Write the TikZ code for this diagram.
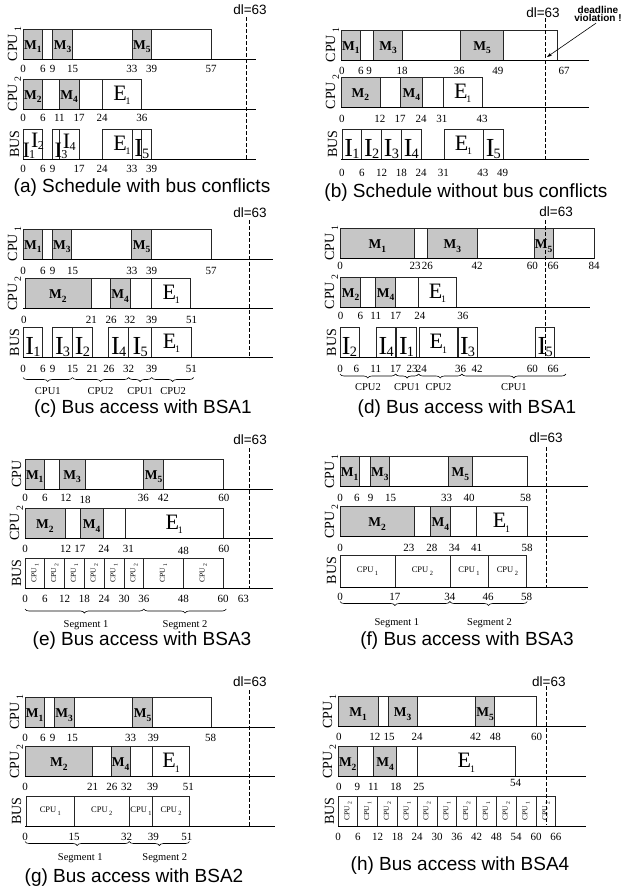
\documentclass[tikz,border=0pt]{standalone}
\usepackage{fontspec}
\setmainfont{Liberation Serif}
\setsansfont{Liberation Sans}
\usepackage{graphicx}
\usetikzlibrary{decorations.pathreplacing,arrows.meta}
\newcommand\subx[1]{\raisebox{-0.28em}{\scalebox{0.7}{#1}}}
\newcommand\esub[1]{\kern-0.05em\raisebox{-0.2em}{\scalebox{0.45}{#1}}}
\newcommand\isub[1]{\kern-0.03em\raisebox{-0.08em}{\scalebox{0.55}{#1}}}
\newcommand\cpusub[1]{CPU\,\raisebox{-0.3em}{\scalebox{0.75}{#1}}}
\newcommand\rowh{30}
\newcommand\wbox[3]{\draw[segbox] (#1,#3) rectangle (#2,{#3+\rowh});}
\newcommand\gbox[4]{\draw[gseg] (#1,#3) rectangle (#2,{#3+\rowh});\node[mlab] at ({(#1+#2)/2},{#3+20}) {M\subx{#4}};}
\newcommand\ebox[3]{\draw[segbox] (#1,#3) rectangle (#2,{#3+\rowh});\node[elab] at ({(#1+#2)/2},{#3+21}) {E\esub{1}};}
\newcommand\ibox[4]{\draw[segbox] (#1,#3) rectangle (#2,{#3+\rowh});\node[ilab] at ({(#1+#2)/2},{#3+27}) {I\isub{#4}};}
\newcommand\vslot[4]{\draw[segbox] (#1,#3) rectangle (#2,{#3+\rowh});\node[slotv] at ({(#1+#2)/2},{#3+\rowh/2}) {\cpusub{#4}};}
\newcommand\hslot[4]{\draw[segbox] (#1,#3) rectangle (#2,{#3+\rowh});\node[sloth] at ({(#1+#2)/2},{#3+\rowh/2}) {\cpusub{#4}};}
\newcommand\rlab[2]{\node[rowlab] at ([xshift=-8.5pt]0,{#1+15}) {#2};}
\newcommand\bline[2]{\draw[baseln] (0,{#1+\rowh}) -- (#2,{#1+\rowh});}
\newcommand\ticks[2]{\foreach \tpos/\tlab in {#2}{\node[ticklab] at (\tpos,#1) {\tlab};}}
\tikzset{
  segbox/.style={draw=black!85, line width=0.7pt, fill=white},
  gseg/.style={segbox, fill=gray!45},
  baseln/.style={line width=0.8pt, black},
  ticklab/.style={font=\fontsize{11}{11}\selectfont, inner sep=0pt},
  mlab/.style={anchor=base, font=\fontsize{13.5}{13.5}\selectfont\bfseries, inner sep=0pt},
  elab/.style={anchor=base, font=\fontsize{22}{22}\selectfont, inner sep=0pt},
  ilab/.style={anchor=base, font=\fontsize{26}{26}\selectfont, inner sep=0pt},
  rowlab/.style={rotate=90, font=\fontsize{14}{14}\selectfont, inner sep=0pt},
  slotv/.style={rotate=90, font=\fontsize{7.5}{7.5}\selectfont, inner sep=0pt},
  sloth/.style={font=\fontsize{8.5}{8.5}\selectfont, inner sep=0pt},
  blab/.style={font=\fontsize{10.5}{10.5}\selectfont, inner sep=0pt},
  captxt/.style={font=\sffamily\fontsize{19}{19}\selectfont, inner sep=0pt},
  dlt/.style={font=\sffamily\fontsize{13.5}{13.5}\selectfont, inner sep=0pt},
  dline/.style={dash pattern=on 3.5pt off 2.5pt, line width=0.8pt},
  brc/.style={decorate, decoration={brace, mirror, amplitude=4pt}, line width=0.6pt}
}
\begin{document}
\begin{tikzpicture}[x=1pt,y=-1pt]
\fill[white] (0,0) rectangle (629,892);
\useasboundingbox (0,0) rectangle (629,892);

% ---------------- (a)
\begin{scope}[xshift=23pt, x=3.3pt]
\rlab{29}{CPU\,\subx{1}}
\wbox{0}{57}{29}
\gbox{0}{6}{29}{1}\gbox{9}{15}{29}{3}\gbox{33}{39}{29}{5}
\bline{29}{70.6}
\ticks{69}{0/0,6/6,9/9,15/15,33/33,39/39,57/57}
\rlab{79}{CPU\,\subx{2}}
\wbox{0}{36}{79}
\gbox{0}{6}{79}{2}\gbox{11}{17}{79}{4}\ebox{24}{36}{79}
\bline{79}{70.6}
\ticks{118}{0/0,6/6,11/11,17/17,24/24,36/36}
\rlab{129}{BUS}
\draw[segbox] (0,129) rectangle (6,159);
\node[ilab, font=\fontsize{22}{22}\selectfont] (aI1) at (1.8,157) {I\isub{1}};
\node[ilab, font=\fontsize{22}{22}\selectfont] (aI2) at (4.4,147.5) {I\isub{2}};
\draw[segbox] (9,129) rectangle (17,159);
\draw[segbox] (11,129) -- (11,159);
\node[ilab, font=\fontsize{22}{22}\selectfont] (aI3) at (11.5,157) {I\isub{3}};
\node[ilab, font=\fontsize{22}{22}\selectfont] (aI4) at (14,148.5) {I\isub{4}};
\ebox{24}{36}{129}
\draw[segbox, fill=none] (33,129) rectangle (39,159);
\node[ilab] (aI5) at (36,156) {I\isub{5}};
\bline{129}{70.6}
\ticks{169}{0/0,6/6,9/9,17/17,24/24,33/33,39/39}
\node[dlt] (adl) at (68.8,10) {dl=63};
\draw[dline] (67.6,17) -- (67.6,159);
\end{scope}
\node[captxt] (capa) at (142,188) {(a) Schedule with bus conflicts};

% ---------------- (b)
\begin{scope}[xshift=341pt, x=3.3pt]
\rlab{30}{CPU\,\subx{1}}
\wbox{0}{65.5}{30}
\gbox{0}{6}{30}{1}\gbox{9.8}{18.7}{30}{3}\gbox{36.2}{49.3}{30}{5}
\bline{30}{75.2}
\ticks{70.5}{0.3/0,6/6,8.5/9,18.5/18,35.8/36,47.5/49,67.6/67}
\rlab{77}{CPU\,\subx{2}}
\wbox{0}{42.8}{77}
\gbox{0}{11.8}{77}{2}\gbox{17.9}{24.8}{77}{4}\ebox{31}{42.8}{77}
\bline{77}{75.2}
\ticks{119}{0.3/0,11.8/12,17.9/17,24.3/24,30.6/31,42.8/43}
\rlab{129}{BUS}
\ibox{0.3}{6.3}{129}{1}\ibox{6.3}{12.3}{129}{2}\ibox{12.3}{18.3}{129}{3}\ibox{18.3}{24.3}{129}{4}
\ebox{31.2}{43}{129}\ibox{43}{49.3}{129}{5}
\bline{129}{75.2}
\ticks{173}{0.3/0,6.3/6,12.3/12,18.3/18,24.3/24,31/31,43/43,49/49}
\node[dlt] (bdl) at (61.2,13) {dl=63};
\draw[dline] (62,18) -- (62,159);
\end{scope}
\node[font=\sffamily\bfseries\fontsize{10}{8.6}\selectfont, align=center, inner sep=0pt] (viol) at (598,14) {deadline\\violation !};
\coordinate (vtip) at (547,57);
\draw[line width=0.6pt, -{Stealth[length=5pt,width=3.5pt]}] ([xshift=-2pt,yshift=-1pt]viol.south) -- (vtip);
\node[captxt] (capb) at (466,193) {(b) Schedule without bus conflicts};

% ---------------- (c)
\begin{scope}[xshift=23pt, x=3.3pt]
\rlab{229}{CPU\,\subx{1}}
\wbox{0}{57}{229}
\gbox{0}{6}{229}{1}\gbox{8.9}{14.7}{229}{3}\gbox{32.9}{39}{229}{5}
\bline{229}{75.8}
\ticks{271}{0/0,6/6,9/9,15/15,33/33,39/39,57/57}
\rlab{278.5}{CPU\,\subx{2}}
\wbox{0.6}{50.8}{278.5}
\gbox{0.6}{20.6}{278.5}{2}\gbox{26.4}{32.4}{278.5}{4}\ebox{39}{50.8}{278.5}
\bline{278.5}{75.8}
\ticks{320}{0.3/0,20.7/21,26.7/26,32.4/32,39/39,51.1/51}
\rlab{327.5}{BUS}
\ibox{0}{6}{327.5}{1}\ibox{9}{15}{327.5}{3}\ibox{15}{21}{327.5}{2}
\ibox{26}{32}{327.5}{4}\ibox{32}{39}{327.5}{5}\ebox{39}{51}{327.5}
\bline{327.5}{75.8}
\ticks{369}{0/0,6/6,9/9,15/15,21/21,26/26,32/32,39/39,51/51}
\draw[brc] (0,377.5) -- (15,377.5);
\draw[brc] (15,377.5) -- (32,377.5);
\draw[brc] (32,377.5) -- (39,377.5);
\draw[brc] (39,377.5) -- (51.7,377.5);
\node[blab] at (7.5,391) {CPU1};
\node[blab] at (23.5,391) {CPU2};
\node[blab] at (35.5,391) {CPU1};
\node[blab] at (45.5,391) {CPU2};
\node[dlt] (cdl) at (68.8,212.5) {dl=63};
\draw[dline] (68.6,220) -- (68.6,358);
\end{scope}
\node[captxt] (capc) at (143,408.5) {(c) Bus access with BSA1};

% ---------------- (d)
\begin{scope}[xshift=340pt, x=3.25pt]
\rlab{228.3}{CPU\,\subx{1}}
\wbox{0}{78.2}{228.3}
\gbox{0}{23}{228.3}{1}\gbox{26.9}{42.2}{228.3}{3}\gbox{59.7}{65.6}{228.3}{5}
\bline{228.3}{78.2}
\ticks{265.7}{0/0,23.1/23,26.9/26,42.2/42,59.2/60,65.6/66,78.2/84}
\rlab{277}{CPU\,\subx{2}}
\wbox{0.2}{35.9}{277}
\gbox{0.2}{6.3}{277}{2}\gbox{11}{17.1}{277}{4}\ebox{24.1}{35.9}{277}
\bline{277}{76.9}
\ticks{316}{0.2/0,6.3/6,11/11,17.1/17,24.6/24,37.8/36}
\rlab{327.7}{BUS}
\ibox{0}{5.8}{327.7}{2}\ibox{11.3}{17.1}{327.7}{4}\ibox{17.4}{23.6}{327.7}{1}
\ebox{24.4}{36.1}{327.7}\ibox{36.3}{42.2}{327.7}{3}\ibox{60.2}{66.1}{327.7}{5}
\bline{327.7}{76.9}
\ticks{368.5}{0/0,5/6,11/11,17.1/17,22.2/23,25/24,37.1/36,42.2/42,59.2/60,65.6/66}
\draw[brc] (0,374) -- (17.1,374);
\draw[brc] (17.1,374) -- (24.2,374);
\draw[brc] (24.2,374) -- (37.5,374);
\draw[brc] (37.5,374) -- (69.5,374);
\node[blab] at (8.6,387.5) {CPU2};
\node[blab] at (20.6,387.5) {CPU1};
\node[blab] at (30.3,387.5) {CPU2};
\node[blab] at (53.5,387.5) {CPU1};
\node[dlt] (ddl) at (66.5,212) {dl=63};
\draw[dline] (63.3,220) -- (63.3,358);
\end{scope}
\node[captxt] (capd) at (467,408.5) {(d) Bus access with BSA1};

% ---------------- (e)
\begin{scope}[xshift=25pt, x=3.3pt]
\rlab{459}{CPU}
\wbox{0}{60}{459}
\gbox{0}{5.9}{459}{1}\gbox{10.4}{18.2}{459}{3}\gbox{35.9}{42}{459}{5}
\bline{459}{75.2}
\ticks{498}{0/0,6/6,12.4/12,35.9/36,41.9/42,60.3/60}
\node[ticklab] at (18.2,500) {18};
\rlab{508.3}{CPU\,\subx{2}}
\wbox{0}{60}{508.3}
\gbox{0}{12.1}{508.3}{2}\gbox{16.7}{23.7}{508.3}{4}\ebox{30.4}{60}{508.3}
\bline{508.3}{75.2}
\ticks{549}{0/0,12.3/12,16.6/17,23.9/24,31.3/31,60.3/60}
\node[ticklab] at (48,550.7) {48};
\rlab{558.3}{BUS}
\vslot{0}{6}{558.3}{1}\vslot{6}{12}{558.3}{2}\vslot{12}{18}{558.3}{1}\vslot{18}{24}{558.3}{2}
\vslot{24}{30}{558.3}{1}\vslot{30}{36}{558.3}{2}\vslot{36}{48}{558.3}{1}\vslot{48}{60}{558.3}{2}
\bline{558.3}{75.2}
\ticks{599}{0/0,6/6,12/12,18/18,24/24,30/30,36/36,48/48,60/60,66.2/63}
\draw[brc] (0,609) -- (36,609);
\draw[brc] (36,609) -- (61,609);
\node[blab] at (18.5,625) {Segment 1};
\node[blab] at (48.5,625) {Segment 2};
\node[dlt] (edl) at (68.2,440) {dl=63};
\draw[dline] (68,448) -- (68,588);
\end{scope}
\node[captxt] (cape) at (142,641) {(e) Bus access with BSA3};

% ---------------- (f)
\begin{scope}[xshift=340pt, x=3.25pt]
\rlab{456.7}{CPU\,\subx{1}}
\wbox{0}{57.6}{456.7}
\gbox{0}{5.85}{456.7}{1}\gbox{9.2}{15.3}{456.7}{3}\gbox{33.3}{40.7}{456.7}{5}
\bline{456.7}{76.3}
\ticks{498.3}{0/0,5.2/6,9.4/9,15.6/15,32.8/33,39.7/40,57.1/58}
\rlab{506.7}{CPU\,\subx{2}}
\wbox{0}{57.6}{506.7}
\gbox{0}{22.8}{506.7}{2}\gbox{27.9}{33.8}{506.7}{4}\ebox{41.8}{57.6}{506.7}
\bline{506.7}{76.3}
\ticks{548.3}{0/0,21.2/23,28.3/28,35.2/34,42/41,57.6/58}
\rlab{555.7}{BUS}
\renewcommand\rowh{31.5}
\hslot{0}{16.9}{555.7}{1}\hslot{16.9}{33.8}{555.7}{2}\hslot{33.8}{45.6}{555.7}{1}\hslot{45.6}{57.4}{555.7}{2}
\bline{555.7}{76.3}
\renewcommand\rowh{30}
\ticks{596.7}{0/0,16.9/17,33.8/34,45.6/46,57.4/58}
\draw[brc] (0,601.5) -- (33.8,601.5);
\draw[brc] (33.8,601.5) -- (57.6,601.5);
\node[blab] at (17.5,623.3) {Segment 1};
\node[blab] at (46,623.3) {Segment 2};
\node[dlt] (fdl) at (63.4,438) {dl=63};
\draw[dline] (63.6,447) -- (63.6,588);
\end{scope}
\node[captxt] (capf) at (467,641) {(f) Bus access with BSA3};

% ---------------- (g)
\begin{scope}[xshift=25pt, x=3.25pt]
\rlab{697.3}{CPU\,\subx{1}}
\wbox{0}{57.2}{697.3}
\gbox{0}{5.9}{697.3}{1}\gbox{8.9}{15.1}{697.3}{3}\gbox{33.1}{39.3}{697.3}{5}
\bline{697.3}{76.9}
\ticks{738.3}{0/0,5.5/6,8.5/9,14.6/15,32.5/33,39.5/39,57.1/58}
\rlab{746.7}{CPU\,\subx{2}}
\wbox{0}{50.6}{746.7}
\gbox{0}{20.8}{746.7}{2}\gbox{26.5}{32.3}{746.7}{4}\ebox{39.3}{50.6}{746.7}
\bline{746.7}{76.9}
\ticks{786.7}{0/0,20.8/21,26.7/26,31.3/32,39.3/39,50.3/51}
\rlab{796}{BUS}
\hslot{0.5}{15.1}{796}{1}\hslot{15.1}{32.1}{796}{2}\hslot{32.1}{39.3}{796}{1}\hslot{39.3}{50.6}{796}{2}
\bline{796}{76.9}
\ticks{837.3}{0/0,15.1/15,31.3/32,39.5/39,49.8/51}
\draw[brc] (0,841.5) -- (32.1,841.5);
\draw[brc] (32.1,841.5) -- (50.6,841.5);
\node[blab] at (17,858.3) {Segment 1};
\node[blab] at (43,858.3) {Segment 2};
\node[dlt] (gdl) at (69.2,681.7) {dl=63};
\draw[dline] (69,690) -- (69,826);
\end{scope}
\node[captxt] (capg) at (134,878) {(g) Bus access with BSA2};

% ---------------- (h)
\begin{scope}[xshift=338pt, x=3.3pt]
\rlab{696.7}{CPU\,\subx{1}}
\wbox{0}{60.2}{696.7}
\gbox{0}{12.2}{696.7}{1}\gbox{15.2}{24}{696.7}{3}\gbox{41.6}{47.5}{696.7}{5}
\bline{696.7}{75}
\ticks{736.7}{0.3/0,11.2/12,15.5/15,24/24,41.7/42,47.7/48,60.2/60}
\rlab{746.7}{CPU\,\subx{2}}
\wbox{0}{53.8}{746.7}
\gbox{0}{5.9}{746.7}{2}\gbox{10.7}{17.8}{746.7}{4}\ebox{24}{53.8}{746.7}
\bline{746.7}{75}
\ticks{786.7}{0.3/0,5.9/9,10.7/11,17.5/18,24.5/25}
\node[ticklab] at (53.8,783) {54};
\rlab{796}{BUS}
\foreach \k/\c in {0/2,1/1,2/2,3/1,4/2,5/1,6/2,7/1,8/2,9/1,10/2}{\vslot{6*\k}{6*\k+6}{796}{\c}}
\bline{796}{75}
\ticks{837.3}{0/0,6/6,12/12,18/18,24/24,30/30,36/36,42/42,48/48,54/54,60/60,66/66}
\node[dlt] (hdl) at (63.9,681.7) {dl=63};
\draw[dline] (63.1,686) -- (63.1,825);
\end{scope}
\node[captxt] (caph) at (460,866) {(h) Bus access with BSA4};
\end{tikzpicture}
\end{document}
